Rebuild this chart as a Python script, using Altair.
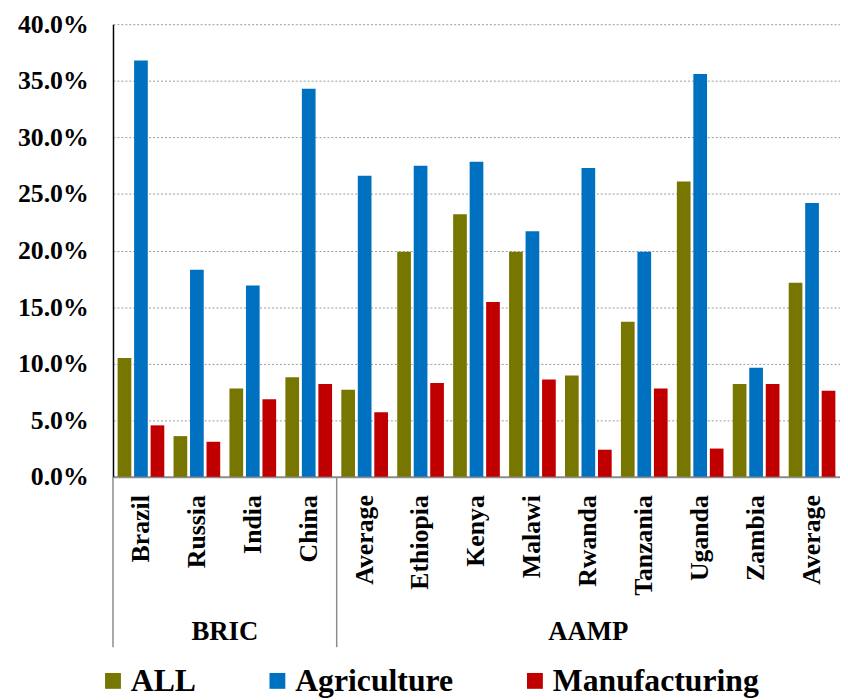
import altair as alt
import pandas as pd

# ---- data ----
categories = ["Brazil", "Russia", "India", "China", "Average", "Ethiopia", "Kenya",
              "Malawi", "Rwanda", "Tanzania", "Uganda", "Zambia", "Average"]
series = ["ALL", "Agriculture", "Manufacturing"]
all_vals = [0.105, 0.036, 0.078, 0.088, 0.077, 0.199, 0.232, 0.199, 0.0895, 0.137, 0.261, 0.082, 0.1715]
agri_vals = [0.368, 0.183, 0.169, 0.343, 0.266, 0.275, 0.2785, 0.217, 0.273, 0.199, 0.356, 0.0965, 0.242]
manu_vals = [0.0455, 0.031, 0.0685, 0.082, 0.057, 0.083, 0.1545, 0.086, 0.024, 0.078, 0.025, 0.082, 0.076]
groups = ["BRIC", "AAMP"]
y_ticks = [0, 0.05, 0.10, 0.15, 0.20, 0.25, 0.30, 0.35, 0.40]
colors = ["#767600", "#0070C0", "#C00000"]

keys = [f"{c}|{i}" for i, c in enumerate(categories)]

rows = []
for k, a, g, m in zip(keys, all_vals, agri_vals, manu_vals):
    rows.append({"key": k, "series": "ALL", "value": a})
    rows.append({"key": k, "series": "Agriculture", "value": g})
    rows.append({"key": k, "series": "Manufacturing", "value": m})
df = pd.DataFrame(rows)

FONT = "'Liberation Serif', 'Times New Roman', Times, serif"
H = 457
W = 734

xscale = alt.Scale(domain=keys, paddingInner=0, paddingOuter=0)
xaxis = alt.Axis(labelAngle=-90, labelExpr="split(datum.label, '|')[0]",
                 labelFont=FONT, labelFontWeight="bold", labelFontSize=26,
                 labelColor="black", labelPadding=18, ticks=False,
                 domainColor="#8C8C8C", domainWidth=2, grid=False, title=None)

bars = alt.Chart(df).mark_bar().encode(
    x=alt.X("key:N", scale=xscale, title=None, axis=xaxis),
    xOffset=alt.XOffset("series:N", sort=series,
                        scale=alt.Scale(paddingInner=0.17, paddingOuter=0.28)),
    y=alt.Y("value:Q", title=None,
            scale=alt.Scale(domain=[0, 0.4], nice=False),
            axis=alt.Axis(values=y_ticks, format=".1%", labelFont=FONT,
                          labelFontWeight="bold", labelFontSize=26, labelColor="black",
                          labelPadding=25, ticks=False, domainColor="black",
                          domainWidth=1.5, grid=True, gridColor="#9A9A9A",
                          gridDash=[2, 2], gridWidth=1)),
    color=alt.Color("series:N", sort=series,
                    scale=alt.Scale(domain=series, range=colors),
                    legend=alt.Legend(title=None, orient="none", direction="horizontal",
                                      legendX=-16, legendY=647,
                                      symbolType="square", symbolSize=256,
                                      symbolStrokeWidth=0, labelFont=FONT,
                                      labelFontWeight="bold", labelFontSize=32,
                                      labelColor="black", labelOffset=2,
                                      columnPadding=66, labelLimit=400)),
)

sep_df = pd.DataFrame({"key": [keys[0], keys[4]]})
seps = alt.Chart(sep_df).mark_rule(color="#8C8C8C", strokeWidth=1.5).encode(
    x=alt.X("key:N", scale=xscale, bandPosition=0, title=None, axis=xaxis),
    y=alt.value(H),
    y2=alt.value(H + 172),
)

bric_df = pd.DataFrame({"key": [keys[2]], "label": [groups[0]]})
aamp_df = pd.DataFrame({"key": [keys[8]], "label": [groups[1]]})

bric = alt.Chart(bric_df).mark_text(font=FONT, fontWeight="bold", fontSize=27,
                                    color="black", baseline="middle", align="center").encode(
    x=alt.X("key:N", scale=xscale, bandPosition=0, title=None, axis=xaxis),
    y=alt.value(614),
    text="label:N",
)
aamp = alt.Chart(aamp_df).mark_text(font=FONT, fontWeight="bold", fontSize=27,
                                    color="black", baseline="middle", align="center").encode(
    x=alt.X("key:N", scale=xscale, bandPosition=0.5, title=None, axis=xaxis),
    y=alt.value(614),
    text="label:N",
)

chart = alt.layer(bars, seps, bric, aamp).properties(
    width=W, height=H,
    autosize=alt.AutoSizeParams(type="none"),
    padding={"left": 106, "top": 13, "right": 0, "bottom": 229},
).configure_view(strokeWidth=0)

chart.save("out.html", embed_options={"renderer": "svg", "actions": False})
